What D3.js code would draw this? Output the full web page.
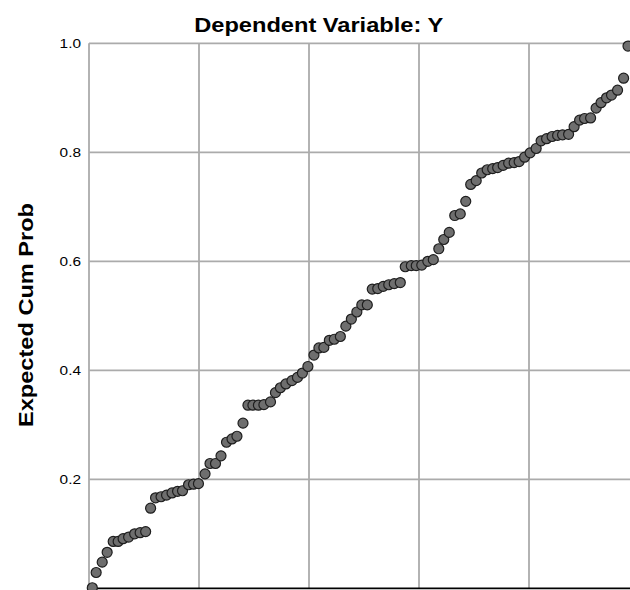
<!DOCTYPE html>
<html>
<head>
<meta charset="utf-8">
<script src="https://cdn.jsdelivr.net/npm/d3@7/dist/d3.min.js"></script>
<style>
  body { margin: 0; background: #fff; }
  svg { display: block; }
  text { font-family: "Liberation Sans", Arial, sans-serif; }
</style>
</head>
<body>
<div id="chart"></div>
<script>
// Normal P-P plot of regression standardized residual
const chartTitle = 'Dependent Variable: Y'
const yTitle = 'Expected Cum Prob'
const yTicks = [0.2, 0.4, 0.6, 0.8, 1.0]
const xGrid = [0, 0.2, 0.4, 0.6, 0.8, 1.0]

const observed = [
  0.006, 0.013, 0.024, 0.033, 0.044, 0.053, 0.062, 0.072, 0.083, 0.093,
  0.103, 0.112, 0.121, 0.131, 0.141, 0.151, 0.161, 0.170, 0.181, 0.190,
  0.199, 0.211, 0.220, 0.230, 0.240, 0.250, 0.260, 0.269, 0.280, 0.289,
  0.298, 0.308, 0.318, 0.330, 0.339, 0.348, 0.358, 0.369, 0.379, 0.388,
  0.398, 0.409, 0.418, 0.427, 0.437, 0.446, 0.457, 0.467, 0.477, 0.487,
  0.496, 0.506, 0.515, 0.525, 0.535, 0.545, 0.555, 0.566, 0.575, 0.586,
  0.595, 0.605, 0.616, 0.626, 0.636, 0.645, 0.655, 0.665, 0.675, 0.685,
  0.694, 0.704, 0.714, 0.724, 0.734, 0.743, 0.753, 0.763, 0.773, 0.782,
  0.792, 0.802, 0.813, 0.822, 0.832, 0.842, 0.852, 0.861, 0.872, 0.882,
  0.892, 0.901, 0.912, 0.922, 0.931, 0.941, 0.950, 0.961, 0.972, 0.980
]

// expected cum prob
const expected = [
  0.001, 0.029, 0.048, 0.066, 0.086, 0.086, 0.091, 0.094, 0.100, 0.102,
  0.104, 0.147, 0.166, 0.168, 0.171, 0.175, 0.178, 0.179, 0.190, 0.191,
  0.192, 0.210, 0.229, 0.229, 0.243, 0.268, 0.274, 0.279, 0.303, 0.336,
  0.336, 0.336, 0.337, 0.342, 0.359, 0.368, 0.375, 0.381, 0.387, 0.395,
  0.407, 0.428, 0.441, 0.442, 0.455, 0.457, 0.462, 0.481, 0.494, 0.507,
  0.520, 0.520, 0.549, 0.550, 0.554, 0.557, 0.559, 0.561, 0.590, 0.592,
  0.592, 0.593, 0.600, 0.603, 0.623, 0.640, 0.653, 0.684, 0.687, 0.710,
  0.741, 0.748, 0.762, 0.768, 0.770, 0.772, 0.776, 0.780, 0.781, 0.783,
  0.791, 0.799, 0.807, 0.821, 0.825, 0.829, 0.831, 0.832, 0.833, 0.847,
  0.859, 0.862, 0.863, 0.881, 0.891, 0.900, 0.905, 0.914, 0.936, 0.995
]

const width = 630
const height = 590

const svg = d3.select('#chart').append('svg')
  .attr('width', width)
  .attr('height', height)

// plot runs past the right edge of the window
const x = d3.scaleLinear().domain([0, 1]).range([89, 639])
const y = d3.scaleLinear().domain([0, 1]).range([588.3, 43.3])

// grid
svg.append('g').selectAll('line')
  .data(xGrid)
  .join('line')
  .attr('x1', d => x(d)).attr('x2', d => x(d))
  .attr('y1', y(0)).attr('y2', y(1))
  .attr('stroke', '#ababab')
  .attr('stroke-width', 1.8)

svg.append('g').selectAll('line')
  .data(yTicks)
  .join('line')
  .attr('x1', x(0)).attr('x2', x(1))
  .attr('y1', d => y(d)).attr('y2', d => y(d))
  .attr('stroke', '#ababab')
  .attr('stroke-width', 1.8)

// x axis line
svg.append('line')
  .attr('x1', x(0) - 1).attr('x2', width)
  .attr('y1', y(0)).attr('y2', y(0))
  .attr('stroke', '#000')
  .attr('stroke-width', 1.8)

// y tick labels
const yAxis = svg.append('g')
  .attr('transform', 'translate(' + x(0) + ',0)')
  .call(d3.axisLeft(y).tickValues(yTicks).tickFormat(d3.format('.1f')).tickSize(0).tickPadding(8))
yAxis.select('.domain').remove()
yAxis.selectAll('text')
  .attr('font-family', '"Liberation Sans", Arial, sans-serif')
  .attr('font-size', 13)
  .attr('fill', '#000')
  .attr('textLength', 21.4)
  .attr('lengthAdjust', 'spacingAndGlyphs')

// titles
svg.append('text')
  .attr('x', 318.7)
  .attr('y', 31.5)
  .attr('text-anchor', 'middle')
  .attr('font-size', 21)
  .attr('font-weight', 'bold')
  .attr('textLength', 249)
  .attr('lengthAdjust', 'spacingAndGlyphs')
  .text(chartTitle)

svg.append('text')
  .attr('transform', 'translate(32.7,315) rotate(-90)')
  .attr('text-anchor', 'middle')
  .attr('font-size', 21)
  .attr('font-weight', 'bold')
  .attr('textLength', 224)
  .attr('lengthAdjust', 'spacingAndGlyphs')
  .text(yTitle)

// points
svg.append('g').selectAll('circle')
  .data(d3.zip(observed, expected))
  .join('circle')
  .attr('cx', d => x(d[0]))
  .attr('cy', d => y(d[1]))
  .attr('r', 5)
  .attr('fill', '#6e6e6e')
  .attr('stroke', '#1e1e1e')
  .attr('stroke-width', 1.2)
</script>
</body>
</html>
